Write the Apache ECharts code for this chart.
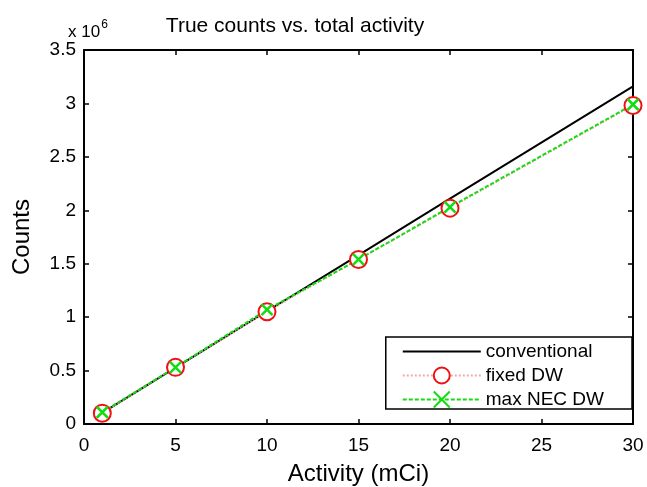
<!DOCTYPE html>
<html><head><meta charset="utf-8">
<script src="https://cdn.jsdelivr.net/npm/echarts@6/dist/echarts.min.js"></script>
<style>html,body{margin:0;padding:0;background:#fff}#c{width:647px;height:487px}</style>
</head><body><div id="c"></div>
<script>
const activity = [1, 5, 10, 15, 20, 30];
const conventional = [0.105e6, 0.527e6, 1.055e6, 1.58e6, 2.11e6, 3.16e6];
const fixedDW = [0.10e6, 0.53e6, 1.05e6, 1.54e6, 2.02e6, 2.98e6];
const maxNecDW = [0.11e6, 0.53e6, 1.07e6, 1.54e6, 2.03e6, 2.99e6];
const seriesNames = ['conventional', 'fixed DW', 'max NEC DW'];

const pair = (ys) => activity.map((x, i) => [x, ys[i]]);
const FONT = 'Liberation Sans, Arial, sans-serif';
const chart = echarts.init(document.getElementById('c'));
const axBase = {
  type: 'value', min: 0, splitLine: { show: false },
  axisLine: { show: true, onZero: false, lineStyle: { color: '#000', width: 2 } },
  axisTick: { show: true, inside: true, length: 5, lineStyle: { color: '#000', width: 1.5 } }
};
chart.setOption({
  animation: false,
  backgroundColor: '#fff',
  title: { text: 'True counts vs. total activity', left: 290, top: 11, textAlign: 'center',
    textStyle: { fontFamily: FONT, fontSize: 21, fontWeight: 'normal', color: '#000' } },
  grid: { left: 84, right: 14, top: 50, bottom: 63, outerBoundsMode: 'none', containLabel: false },
  xAxis: [
    Object.assign({}, axBase, { max: 30, interval: 5, position: 'bottom',
      name: 'Activity (mCi)', nameLocation: 'middle', nameGap: 38,
      nameTextStyle: { fontFamily: FONT, fontSize: 24, color: '#000' },
      axisLabel: { fontFamily: FONT, fontSize: 19, color: '#000', margin: 12 } }),
    Object.assign({}, axBase, { max: 30, interval: 5, position: 'top', axisLabel: { show: false } })
  ],
  yAxis: [
    Object.assign({}, axBase, { max: 3.5e6, interval: 0.5e6, position: 'left',
      name: 'Counts', nameLocation: 'middle', nameGap: 50, nameRotate: 90,
      nameTextStyle: { fontFamily: FONT, fontSize: 24, color: '#000' },
      axisLabel: { fontFamily: FONT, fontSize: 19, color: '#000', margin: 8,
        formatter: v => String(Math.round(v / 1e5) / 10) } }),
    Object.assign({}, axBase, { max: 3.5e6, interval: 0.5e6, position: 'right', axisLabel: { show: false } })
  ],
  graphic: [{
    type: 'text', left: 68, top: 19,
    style: { text: '{a|x 10}{b|6}', rich: {
      a: { fontFamily: FONT, fontSize: 17, fill: '#000', verticalAlign: 'bottom' },
      b: { fontFamily: FONT, fontSize: 12, fill: '#000', verticalAlign: 'top', padding: [0, 0, 10, 1] } } }
  }],
  legend: {
    orient: 'vertical', right: 15, bottom: 78, itemWidth: 78, itemHeight: 20, itemGap: 5,
    backgroundColor: '#fff', borderColor: '#000', borderWidth: 1.5, padding: [5, 28, 0, 16],
    textStyle: { fontFamily: FONT, fontSize: 19, color: '#000' },
    data: [
      { name: seriesNames[0], itemStyle: { color: 'rgba(0,0,0,0)', borderColor: 'rgba(0,0,0,0)', borderWidth: 0 } },
      { name: seriesNames[1] },
      { name: seriesNames[2] }
    ]
  },
  series: [
    { name: seriesNames[0], type: 'line', data: pair(conventional), showSymbol: false, symbol: 'none',
      lineStyle: { color: '#000', width: 2 }, itemStyle: { color: '#000' } },
    { name: seriesNames[1], type: 'line', data: pair(fixedDW), symbol: 'emptyCircle', symbolSize: 17,
      lineStyle: { color: '#f4a6a6', width: 1.5, type: 'dotted' },
      itemStyle: { color: '#ee1111', borderColor: '#ee1111', borderWidth: 2 } },
    { name: seriesNames[2], type: 'line', data: pair(maxNecDW), symbol: 'path://M0,0L10,10M10,0L0,10', symbolSize: 11,
      lineStyle: { color: '#11dd11', width: 2, type: [4, 2] },
      itemStyle: { color: 'rgba(0,0,0,0)', borderColor: '#11dd11', borderWidth: 2.5 } }
  ]
});
</script></body></html>
